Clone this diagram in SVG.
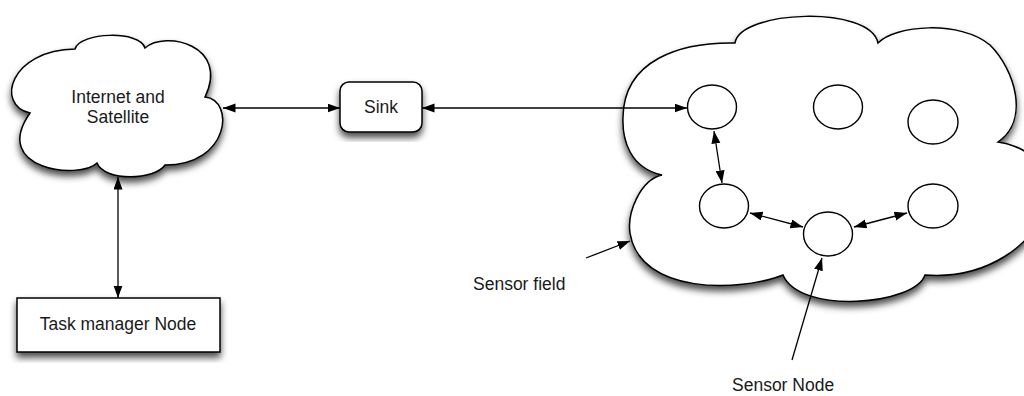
<svg xmlns="http://www.w3.org/2000/svg" width="1024" height="396" viewBox="0 0 1024 396">
  <defs>
    <filter id="shadow" x="-10%" y="-10%" width="120%" height="130%">
      <feDropShadow dx="0" dy="5" stdDeviation="3.5" flood-color="#000" flood-opacity="0.7"/>
    </filter>
    <marker id="head" markerUnits="userSpaceOnUse" markerWidth="14" markerHeight="10" refX="12.5" refY="4.5" orient="auto-start-reverse">
      <path d="M0,0 L12.5,4.5 L0,9 z" fill="#000"/>
    </marker>
  </defs>
  <style>
    .shape { fill: #fff; stroke: #000; stroke-width: 1.5; filter: url(#shadow); }
    .node { fill: #fff; stroke: #000; stroke-width: 1.4; }
    .link { fill: none; stroke: #000; stroke-width: 1.3; }
    .both { marker-start: url(#head); marker-end: url(#head); }
    .one { marker-end: url(#head); }
    text { font-family: "Liberation Sans", Arial, sans-serif; font-size: 17.5px; fill: #1a1a1a; }
    .mid { text-anchor: middle; }
  </style>

  <rect width="1024" height="396" fill="#fff"/>

  <!-- Sensor field cloud -->
  <g id="sensor-field">
    <path class="shape" d="M 662,175
      C 630,168 622,140 623,117
      C 624,60 680,42 735,43
      C 740,10 870,5 878,43
      C 895,25 960,20 990,45
      C 1015,70 1030,120 998,142
      C 1050,150 1065,200 1040,215
      C 1035,240 990,280 925,275
      C 915,305 800,315 783,275
      C 740,292 640,295 630,233
      C 627,213 640,180 662,175 Z"/>
  </g>

  <!-- Internet and Satellite cloud -->
  <g id="internet">
    <path class="shape" d="M 30,113
      C -5,105 10,50 75,49
      C 80,32 140,30 145,48
      C 165,30 230,45 205,97
      C 235,100 230,165 165,165
      C 155,180 105,182 97,163
      C 80,180 -10,170 30,113 Z"/>
    <text class="mid" x="118" y="103">Internet and</text>
    <text class="mid" x="118" y="123">Satellite</text>
  </g>

  <g id="sink">
    <rect class="shape" x="340" y="82" width="82" height="50" rx="9"/>
    <text class="mid" x="381" y="113">Sink</text>
  </g>

  <g id="task-manager">
    <rect class="shape" x="17" y="298" width="203" height="54"/>
    <text class="mid" x="118" y="330">Task manager Node</text>
  </g>

  <!-- sensor nodes -->
  <g id="node-1"><ellipse class="node" cx="712" cy="107" rx="24.5" ry="22"/></g>
  <g id="node-2"><ellipse class="node" cx="838" cy="107" rx="24.5" ry="22"/></g>
  <g id="node-3"><ellipse class="node" cx="933" cy="122" rx="25" ry="22"/></g>
  <g id="node-4"><ellipse class="node" cx="724" cy="206" rx="24.5" ry="22"/></g>
  <g id="node-5"><ellipse class="node" cx="828" cy="234" rx="24.5" ry="22"/></g>
  <g id="node-6"><ellipse class="node" cx="933" cy="206" rx="25" ry="22"/></g>

  <g id="label-sensor-field">
    <text x="473" y="290">Sensor field</text>
  </g>
  <g id="label-sensor-node">
    <text x="732" y="391">Sensor Node</text>
  </g>

  <g id="connectors">
    <line class="link both" x1="223" y1="108" x2="340" y2="108"/>
    <line class="link both" x1="422" y1="108" x2="687" y2="108"/>
    <line class="link both" x1="118" y1="177" x2="118" y2="298"/>
    <line class="link both" x1="714" y1="131" x2="722" y2="183"/>
    <line class="link both" x1="750" y1="213" x2="803" y2="227"/>
    <line class="link both" x1="854" y1="227" x2="907" y2="213"/>
    <line class="link one" x1="586" y1="258" x2="630" y2="241"/>
    <line class="link one" x1="792" y1="360" x2="822" y2="258"/>
  </g>
</svg>
